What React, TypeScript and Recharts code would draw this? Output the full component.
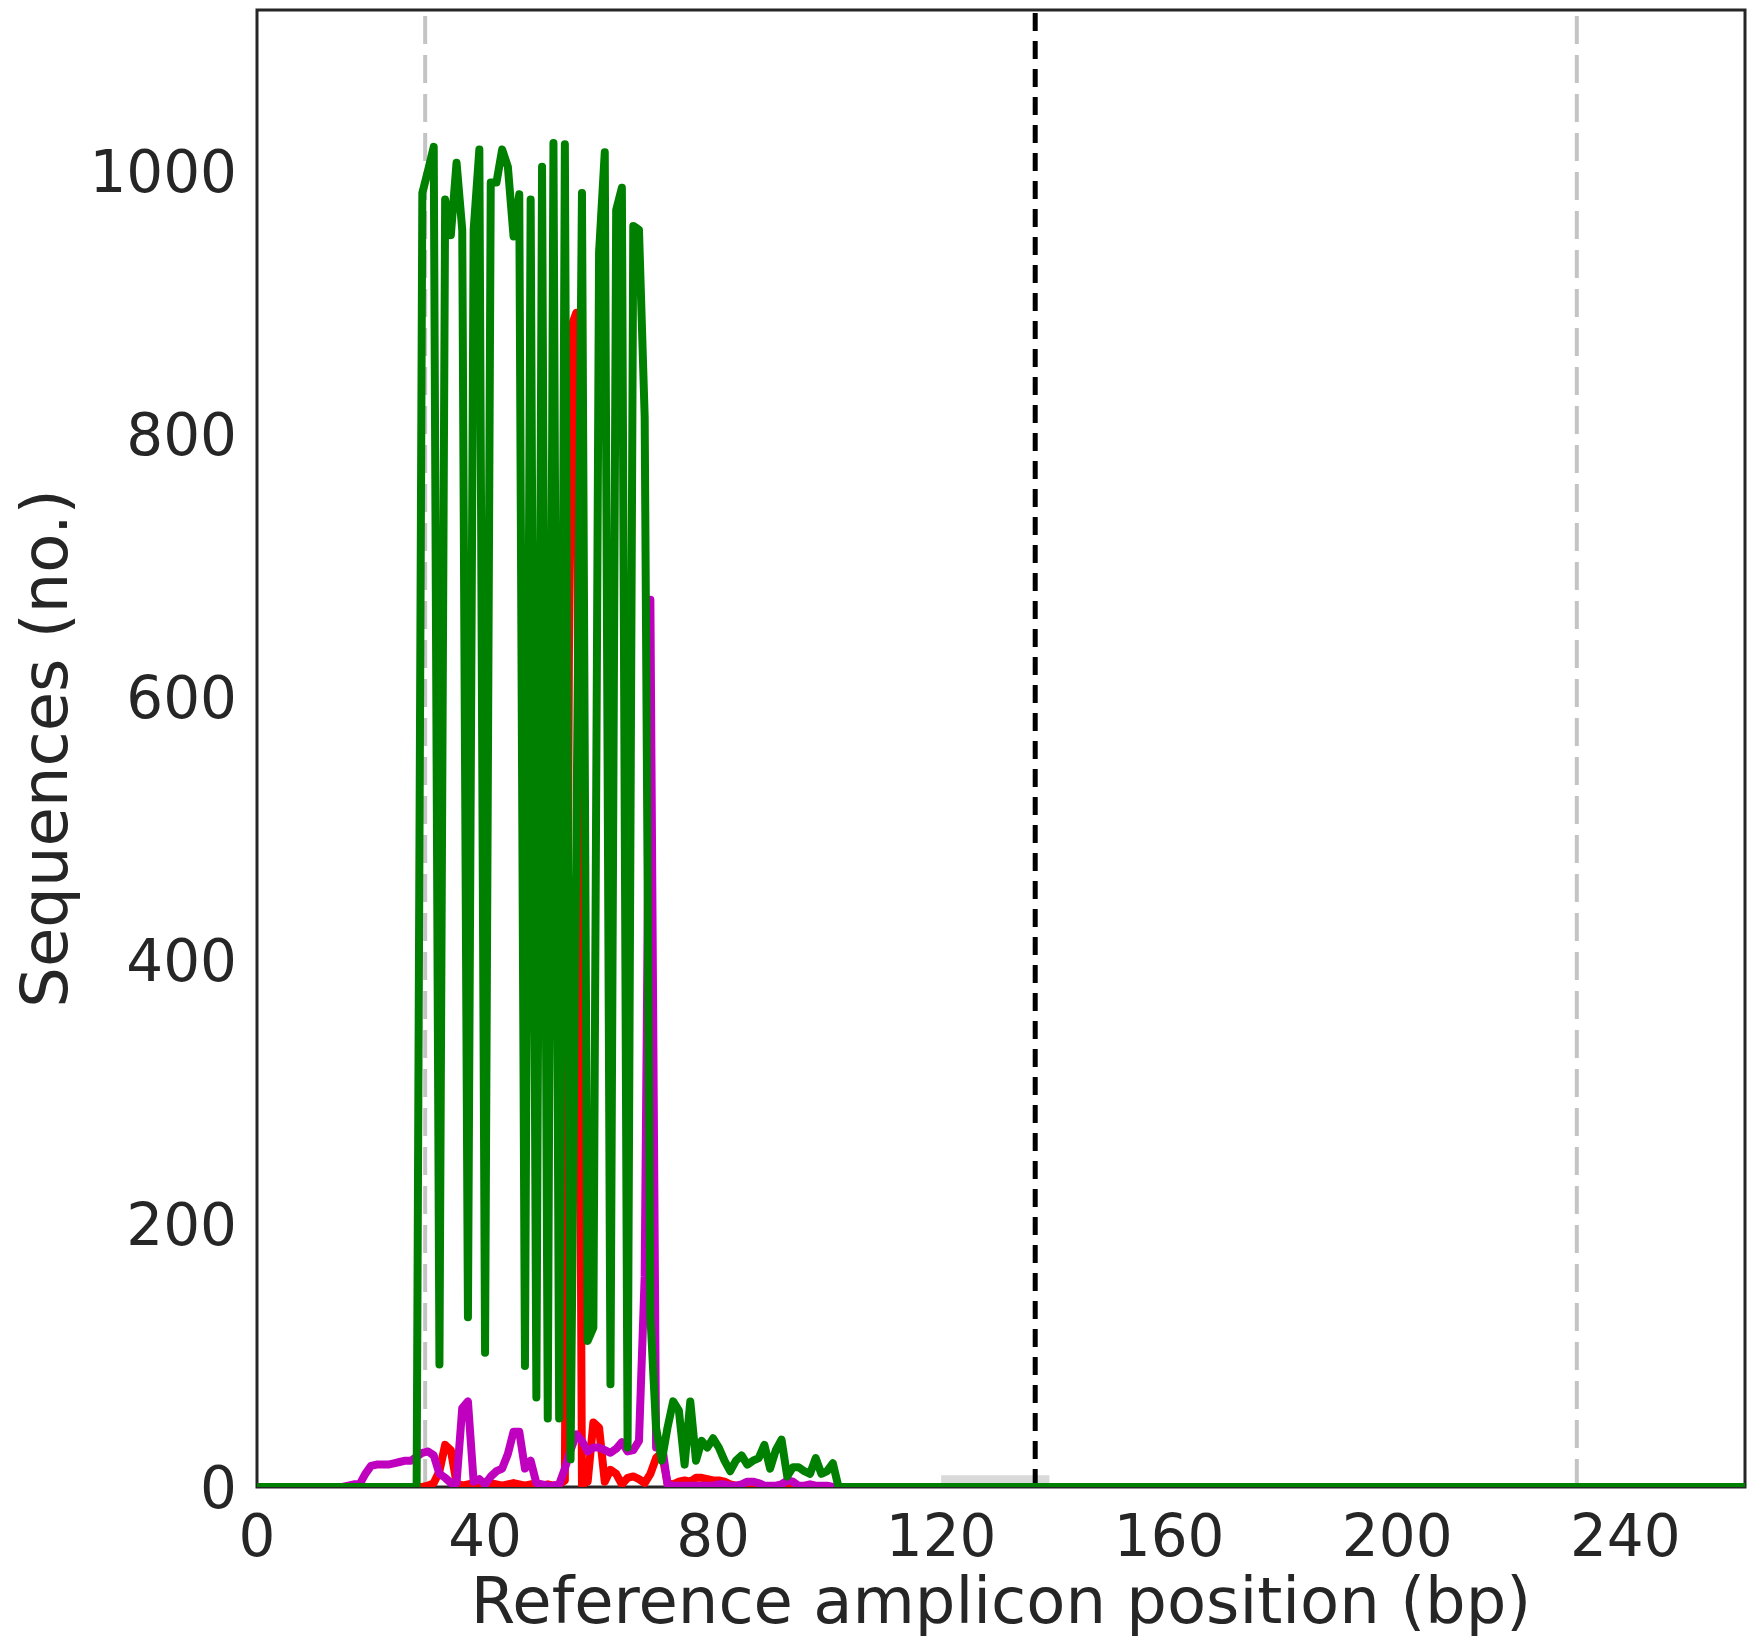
import React from 'react';
import { LineChart, Line, XAxis, YAxis, ReferenceLine, ReferenceArea } from 'recharts';

// amplicon positions 0..261, everything outside the listed ranges is 0
const LAST_POSITION = 261;
const X_TICKS = [0, 40, 80, 120, 160, 200, 240];
const Y_TICKS = [0, 200, 400, 600, 800, 1000];
const Y_MAX = 1122;

// insertions (red), first value is position 29
const INSERTION_START = 29;
const insertions = [
  0, 1, 3, 12, 32, 28, 3, 1, 2, 3, 3, 2, 3, 2, 1, 2, 3, 2, 1, 2, 2, 1, 2, 1, 2, 5,
  880, 892, 2, 4, 49, 45, 4, 13, 10, 2, 7, 8, 6, 3, 10, 22, 26, 3, 2, 4, 5, 4, 7, 7,
  6, 5, 5, 4, 2, 1, 0,
];

// deletions (magenta), first value is position 15
const DELETION_START = 15;
const deletions = [
  0, 1, 2, 2, 10, 16, 17, 17, 17, 18, 19, 20, 20, 23, 26, 27, 24, 10, 7, 3, 3, 60,
  65, 4, 6, 2, 8, 12, 14, 25, 42, 42, 14, 20, 3, 2, 1, 1, 2, 14, 28, 40, 35, 27, 30,
  30, 28, 26, 29, 34, 27, 28, 35, 160, 674, 30, 33, 2, 1, 1, 1, 1, 1, 1, 1, 1, 2, 2,
  1, 1, 2, 4, 4, 3, 1, 1, 1, 2, 5, 4, 1, 1, 2, 1, 1, 1, 0,
];

// substitutions (green), first value is position 28
const SUBSTITUTION_START = 28;
const substitutions = [
  0, 983, 1000, 1018, 93, 978, 951, 1006, 955, 129, 955, 1016, 102, 991, 991, 1016,
  1003, 950, 982, 92, 978, 68, 1003, 52, 1021, 52, 1020, 21, 480, 983, 111, 121, 938,
  1014, 78, 970, 987, 30, 958, 955, 813, 130, 45, 20, 45, 65, 58, 17, 65, 20, 35, 30,
  37, 30, 20, 12, 20, 24, 17, 20, 22, 32, 14, 28, 36, 8, 15, 15, 12, 10, 22, 10, 12,
  18, 0,
];

const WINDOW_LINES = [29.5, 231.5];
const CUT_POSITION = 136.5;
const SGRNA_BOX = [120, 139];
const SGRNA_BOX_HEIGHT = 9;

const valueAt = (series: number[], start: number, pos: number) => {
  const i = pos - start;
  return i >= 0 && i < series.length ? series[i] : 0;
};

const chartData = Array.from({ length: LAST_POSITION + 1 }, (_, pos) => ({
  pos,
  ins: valueAt(insertions, INSERTION_START, pos),
  del: valueAt(deletions, DELETION_START, pos),
  sub: valueAt(substitutions, SUBSTITUTION_START, pos),
}));

const WIDTH = 1752;
const HEIGHT = 1639;
const PLOT_LEFT = 257;
const PLOT_TOP = 10;
const PLOT_RIGHT = 1745;
const PLOT_BOTTOM = 1487;
const FONT = '"DejaVu Sans", sans-serif';
const INK = '#262626';
const LINE_WIDTH = 8;

const XTick = (props: any) => (
  <text x={props.x} y={PLOT_BOTTOM + 69} textAnchor="middle" fontSize={58} fontFamily={FONT} fill={INK}>
    {props.payload.value}
  </text>
);

const YTick = (props: any) => (
  <text x={PLOT_LEFT - 20} y={props.y + 21} textAnchor="end" fontSize={58} fontFamily={FONT} fill={INK}>
    {props.payload.value}
  </text>
);

const XTitle = () => (
  <text x={(PLOT_LEFT + PLOT_RIGHT) / 2} y={1623} textAnchor="middle" fontSize={64} fontFamily={FONT} fill={INK}>
    Reference amplicon position (bp)
  </text>
);

const YTitle = () => {
  const cy = (PLOT_TOP + PLOT_BOTTOM) / 2;
  return (
    <text
      x={67}
      y={cy}
      transform={`rotate(-90, 67, ${cy})`}
      textAnchor="middle"
      fontSize={64}
      fontFamily={FONT}
      fill={INK}
    >
      Sequences (no.)
    </text>
  );
};

export default function App() {
  return (
    <div style={{ position: 'absolute', left: 0, top: 0, width: WIDTH, height: HEIGHT, background: '#fff' }}>
      <LineChart
        width={WIDTH}
        height={HEIGHT}
        data={chartData}
        margin={{ top: PLOT_TOP, right: WIDTH - PLOT_RIGHT, bottom: 0, left: 0 }}
      >
        <XAxis
          dataKey="pos"
          type="number"
          domain={[0, LAST_POSITION]}
          ticks={X_TICKS}
          allowDataOverflow
          height={HEIGHT - PLOT_BOTTOM}
          axisLine={false}
          tickLine={false}
          tick={<XTick />}
          interval={0}
          label={<XTitle />}
        />
        <YAxis
          type="number"
          domain={[0, Y_MAX]}
          ticks={Y_TICKS}
          allowDataOverflow
          width={PLOT_LEFT}
          axisLine={false}
          tickLine={false}
          tick={<YTick />}
          interval={0}
          label={<YTitle />}
        />
        <ReferenceArea
          x1={SGRNA_BOX[0]}
          x2={SGRNA_BOX[1]}
          y1={0}
          y2={SGRNA_BOX_HEIGHT}
          fill="#d9d9d9"
          fillOpacity={1}
          stroke="none"
        />
        {WINDOW_LINES.map((x) => (
          <ReferenceLine key={x} x={x} stroke="#c4c4c4" strokeWidth={4} strokeDasharray="28 11" />
        ))}
        <ReferenceLine x={CUT_POSITION} stroke="#000" strokeWidth={5} strokeDasharray="18 10" />
        <Line
          dataKey="ins"
          stroke="#ff0000"
          strokeWidth={LINE_WIDTH}
          strokeLinejoin="round"
          dot={false}
          activeDot={false}
          isAnimationActive={false}
        />
        <Line
          dataKey="del"
          stroke="#bf00bf"
          strokeWidth={LINE_WIDTH}
          strokeLinejoin="round"
          dot={false}
          activeDot={false}
          isAnimationActive={false}
        />
        <Line
          dataKey="sub"
          stroke="#008000"
          strokeWidth={LINE_WIDTH}
          strokeLinejoin="round"
          dot={false}
          activeDot={false}
          isAnimationActive={false}
        />
        <ReferenceArea
          x1={0}
          x2={LAST_POSITION}
          y1={0}
          y2={Y_MAX}
          fill="none"
          stroke={INK}
          strokeWidth={3}
        />
      </LineChart>
    </div>
  );
}
